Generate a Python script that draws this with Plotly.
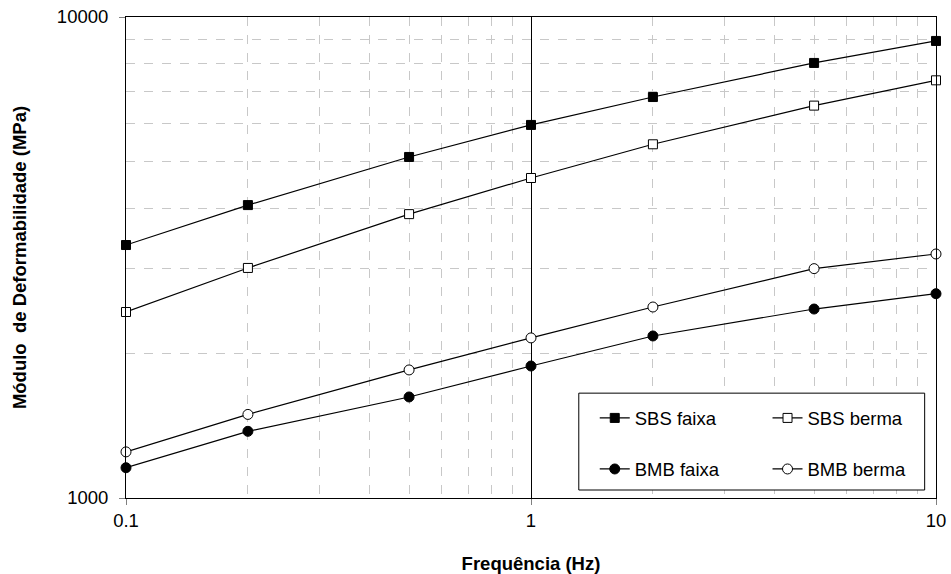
import plotly.graph_objects as go

freq = [0.1, 0.2, 0.5, 1, 2, 5, 10]
sbs_faixa = [3357, 4064, 5117, 5965, 6817, 8026, 8917]
sbs_berma = [2436, 3008, 3892, 4627, 5437, 6543, 7385]
bmb_faixa = [1156, 1376, 1622, 1881, 2172, 2471, 2659]
bmb_berma = [1247, 1492, 1846, 2152, 2495, 2998, 3216]

series = [
    ("SBS faixa", sbs_faixa, "square", "black", "legend", "g1"),
    ("SBS berma", sbs_berma, "square", "white", "legend2", "g3"),
    ("BMB faixa", bmb_faixa, "circle", "black", "legend", "g2"),
    ("BMB berma", bmb_berma, "circle", "white", "legend2", "g4"),
]

fig = go.Figure()
for name, vals, sym, fill, leg, grp in series:
    fig.add_trace(go.Scatter(
        x=freq, y=vals, name=name, mode="lines+markers",
        line=dict(color="black", width=1.2),
        marker=dict(symbol=sym, size=9 if sym == "square" else 10, color=fill,
                    line=dict(color="black", width=1)),
        legend=leg, legendgroup=grp, cliponaxis=False,
    ))

FS = 18.5
font = dict(family="Liberation Sans, Arial, sans-serif", size=FS, color="black")
legend_common = dict(
    orientation="v", traceorder="grouped", tracegroupgap=24,
    bgcolor="rgba(0,0,0,0)", borderwidth=0, font=font,
    xanchor="left", yanchor="top", itemwidth=30,
)

fig.update_layout(
    width=951, height=574,
    margin=dict(l=126, r=14.5, t=17, b=76, autoexpand=False),
    paper_bgcolor="white", plot_bgcolor="white",
    font=font,
    showlegend=True,
    legend=dict(x=0.5787, y=0.205, **legend_common),
    legend2=dict(x=0.792, y=0.205, **legend_common),
    shapes=[
        dict(type="rect", xref="paper", yref="paper",
             x0=0.559, x1=0.986, y0=0.0166, y1=0.218,
             line=dict(color="black", width=1), fillcolor="white", layer="above"),
    ],
    xaxis=dict(
        type="log", range=[-1, 1], dtick=1,
        showline=True, linecolor="black", linewidth=1, mirror=True,
        showgrid=True, gridcolor="black", gridwidth=1,
        ticks="outside", ticklen=6, tickcolor="#808080",
        ticklabelstandoff=0,
        minor=dict(showgrid=True, gridcolor="#c8c8c8", griddash="dash", gridwidth=1,
                   dtick="D1", ticks=""),
        title=dict(text="<b>Frequência (Hz)</b>", font=dict(size=FS), standoff=26),
        tickfont=dict(size=FS), tickformat="",
        zeroline=False,
    ),
    yaxis=dict(
        type="log", range=[3, 4], dtick=1,
        showline=True, linecolor="black", linewidth=1, mirror=True,
        showgrid=True, gridcolor="black", gridwidth=1,
        ticks="outside", ticklen=6, tickcolor="#808080",
        ticklabelstandoff=7,
        minor=dict(showgrid=True, gridcolor="#c8c8c8", griddash="dash", gridwidth=1,
                   dtick="D1", ticks=""),
        title=dict(text="<b>Módulo  de Deformabilidade (MPa)</b>", font=dict(size=FS), standoff=25),
        tickfont=dict(size=FS), tickformat="d",
        zeroline=False,
    ),
    yaxis2=dict(
        overlaying="y", side="left", type="log", range=[3, 4],
        showline=True, linecolor="black", linewidth=2,
        showgrid=False, showticklabels=False, ticks="", zeroline=False,
    ),
)

fig.write_html("out.html")
